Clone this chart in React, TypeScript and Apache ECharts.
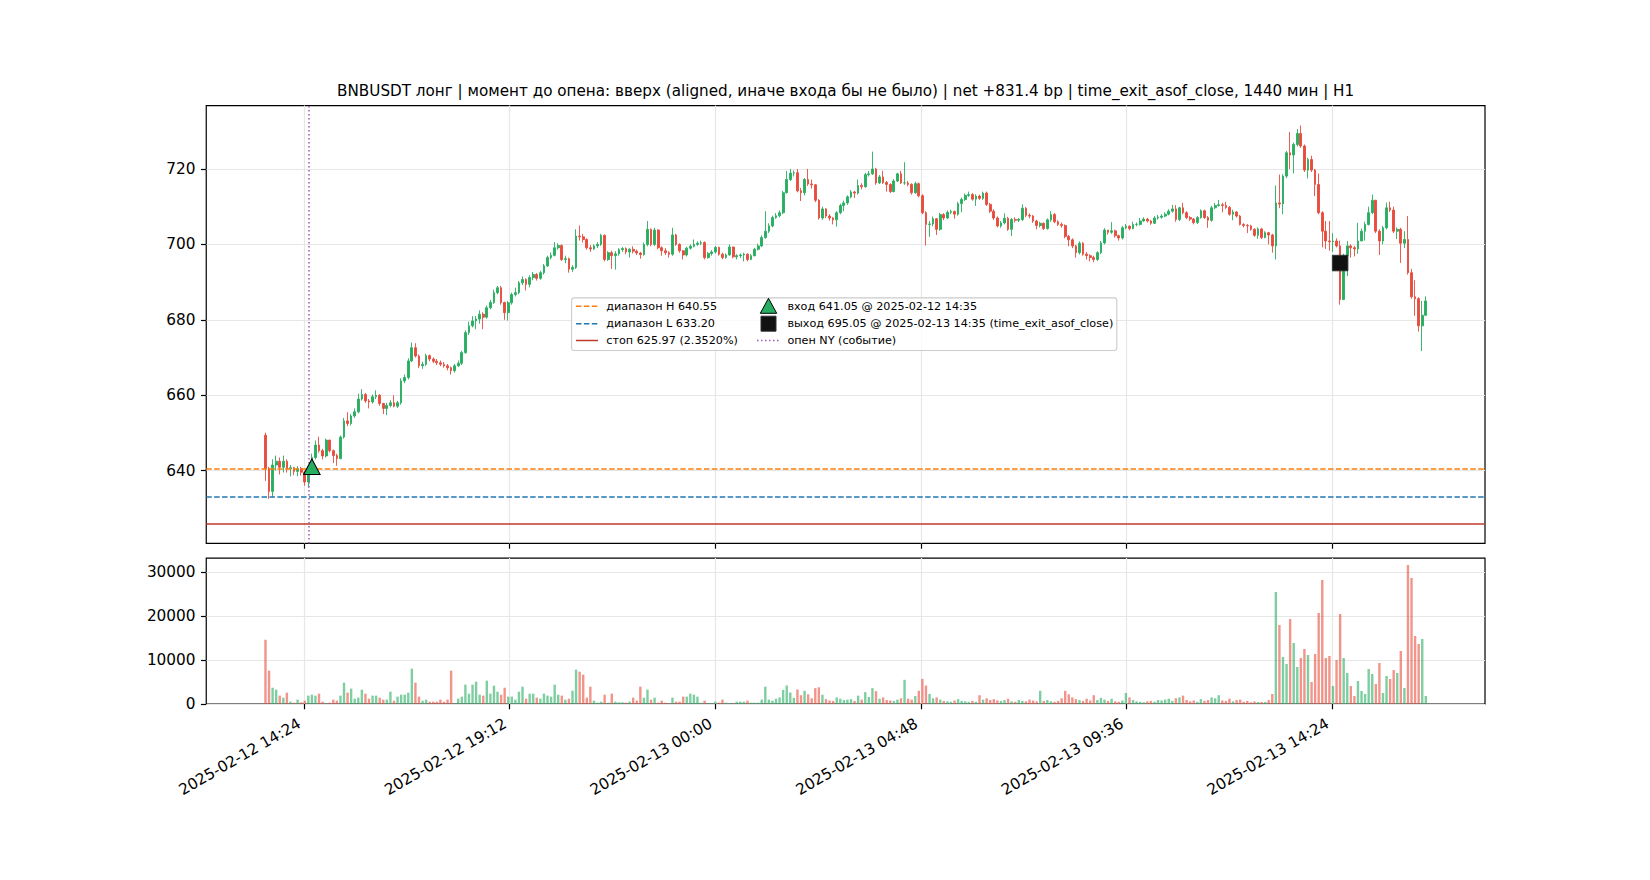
import { useEffect, useRef } from 'react';
import * as echarts from 'echarts';

const TITLE =
  'BNBUSDT лонг | момент до опена: вверх (aligned, иначе входа бы не было) | net +831.4 bp | time_exit_asof_close, 1440 мин | H1';

// 5-minute candles from 2025-02-12 13:30; x is hours since 2025-02-12 00:00
const START_HOUR = 13.5;
const STEP_HOUR = 5 / 60;
const FIRST_OPEN = 649.4;

// [close, high, low]; each candle opens at the previous close
const candleRows: [number, number, number][] = [
  // 0
  [640.6, 650.1, 637.3], [634.5, 641.0, 632.5], [641.5, 643.0, 633.0], [642.5, 644.0, 640.0], [640.9, 643.5, 639.0],
  [642.5, 644.0, 639.5], [640.5, 643.0, 639.5], [640.8, 641.5, 638.5], [639.8, 641.0, 638.8], [640.5, 641.2, 638.5],
  // 10
  [639.6, 641.0, 638.7], [637.0, 640.0, 636.0], [640.5, 641.5, 635.5], [643.5, 644.5, 640.0], [646.8, 648.0, 643.0],
  [645.3, 649.0, 644.8], [643.9, 645.8, 643.0], [648.1, 648.5, 643.5], [645.3, 648.2, 644.8], [644.0, 645.6, 642.0],
  // 20
  [643.2, 644.5, 641.3], [648.9, 649.3, 643.0], [653.2, 654.0, 648.5], [652.5, 655.5, 651.8], [654.5, 655.0, 652.0],
  [655.6, 656.5, 654.0], [659.0, 660.4, 655.2], [660.2, 661.6, 658.6], [658.5, 660.6, 658.0], [658.2, 659.0, 656.5],
  // 30
  [659.6, 660.2, 657.8], [660.0, 661.3, 659.0], [657.8, 660.3, 657.2], [656.5, 658.0, 655.0], [657.3, 658.0, 654.7],
  [658.0, 658.7, 656.8], [657.1, 660.0, 656.8], [658.0, 658.5, 656.6], [663.8, 664.5, 657.5], [664.7, 665.5, 663.2],
  // 40
  [669.1, 669.8, 664.2], [672.6, 674.0, 668.8], [670.4, 673.8, 670.0], [667.8, 670.8, 667.2], [668.2, 668.9, 667.0],
  [670.5, 671.0, 667.8], [669.6, 670.8, 669.0], [669.0, 670.0, 668.5], [668.6, 669.6, 668.0], [668.2, 669.2, 667.7],
  // 50
  [667.8, 668.8, 667.3], [667.3, 668.3, 666.6], [666.5, 667.6, 665.5], [667.8, 668.3, 666.0], [668.5, 669.2, 667.5],
  [671.3, 671.8, 668.0], [676.6, 677.2, 671.0], [678.4, 679.5, 676.0], [679.7, 681.0, 678.0], [680.2, 681.0, 677.5],
  // 60
  [681.5, 682.5, 679.0], [680.7, 682.0, 677.5], [683.2, 683.8, 680.3], [684.6, 685.3, 682.8], [687.2, 688.0, 684.2],
  [688.5, 689.0, 686.8], [684.6, 689.0, 684.0], [681.9, 684.8, 680.0], [684.5, 685.0, 679.8], [686.7, 687.2, 684.0],
  // 70
  [687.2, 688.5, 686.2], [689.8, 690.3, 686.8], [690.7, 691.5, 689.2], [689.4, 691.0, 687.8], [691.2, 691.8, 688.6],
  [692.0, 692.7, 690.5], [691.0, 692.4, 690.4], [692.5, 693.0, 690.6], [694.3, 694.8, 692.0], [696.5, 697.0, 694.0],
  // 80
  [697.1, 697.8, 696.0], [699.1, 700.6, 696.8], [699.7, 700.3, 698.6], [696.0, 700.0, 695.6], [696.2, 697.0, 695.0],
  [693.4, 696.5, 692.5], [693.9, 694.5, 692.7], [702.2, 704.0, 693.5], [702.0, 705.0, 701.0], [701.3, 702.8, 700.5],
  // 90
  [699.1, 701.6, 698.6], [698.8, 699.8, 698.0], [699.6, 700.0, 698.5], [700.0, 700.6, 699.0], [702.4, 702.8, 699.6],
  [696.0, 702.6, 695.5], [697.8, 698.2, 695.6], [697.0, 698.3, 693.5], [697.5, 698.2, 693.3], [698.6, 699.0, 697.0],
  // 100
  [698.9, 699.3, 698.0], [698.0, 699.2, 697.4], [698.7, 699.0, 696.5], [698.2, 699.5, 697.6], [697.7, 698.6, 697.2],
  [697.3, 698.0, 696.2], [700.0, 700.5, 697.0], [704.0, 706.2, 699.5], [700.0, 704.2, 699.5], [703.8, 704.4, 699.6],
  // 110
  [699.1, 704.0, 698.7], [698.3, 699.5, 697.0], [697.8, 699.0, 697.2], [697.4, 698.2, 696.5], [702.5, 704.4, 697.0],
  [700.0, 702.8, 699.6], [698.3, 700.3, 697.8], [697.2, 698.5, 696.0], [699.0, 699.4, 696.8], [699.5, 700.0, 698.6],
  // 120
  [700.0, 701.3, 699.2], [700.3, 700.8, 699.6], [700.5, 701.0, 699.8], [696.5, 700.8, 696.0], [697.6, 698.0, 696.2],
  [698.0, 698.5, 697.0], [699.2, 699.6, 697.6], [697.4, 699.4, 697.0], [696.5, 697.8, 696.0], [697.2, 697.6, 696.2],
  // 130
  [699.3, 700.0, 697.0], [696.7, 699.4, 696.3], [697.0, 697.4, 696.0], [697.2, 697.6, 696.4], [697.4, 697.8, 695.5],
  [696.0, 697.6, 695.5], [697.0, 697.4, 695.8], [698.7, 699.1, 696.8], [699.6, 700.2, 698.4], [701.8, 702.4, 699.3],
  // 140
  [703.5, 708.8, 701.5], [704.9, 705.6, 703.0], [707.1, 707.6, 704.5], [707.6, 708.3, 706.8], [708.4, 709.0, 707.2],
  [713.7, 714.2, 708.0], [717.2, 719.5, 713.5], [718.9, 720.0, 716.8], [719.0, 719.6, 718.0], [714.2, 720.0, 713.8],
  // 150
  [713.7, 715.0, 711.5], [717.2, 717.6, 713.0], [716.0, 720.0, 715.5], [715.8, 717.2, 714.8], [711.7, 716.0, 711.2],
  [707.0, 712.0, 706.6], [709.4, 710.0, 706.5], [707.5, 709.6, 707.0], [707.0, 708.0, 706.3], [706.5, 707.2, 705.3],
  // 160
  [708.4, 708.8, 704.7], [710.3, 710.8, 708.0], [711.0, 711.6, 708.8], [712.6, 713.0, 710.5], [713.9, 714.4, 712.2],
  [713.6, 714.2, 712.3], [715.6, 717.2, 713.2], [715.3, 716.2, 714.6], [718.5, 719.0, 715.0], [718.7, 719.5, 718.0],
  // 170
  [720.0, 724.6, 718.4], [716.3, 720.3, 715.8], [717.9, 718.4, 716.0], [716.4, 719.5, 716.0], [715.9, 716.8, 714.0],
  [714.0, 716.2, 713.6], [716.8, 717.3, 713.8], [718.7, 719.0, 716.5], [716.3, 719.5, 716.0], [716.3, 721.8, 715.8],
  // 180
  [715.9, 716.8, 715.4], [713.7, 716.2, 713.2], [716.1, 716.6, 713.4], [712.9, 716.4, 712.5], [708.4, 713.3, 708.0],
  [705.3, 708.8, 699.7], [705.4, 706.2, 702.0], [706.8, 707.4, 704.8], [704.0, 707.0, 702.5], [707.9, 708.4, 703.6],
  // 190
  [707.0, 708.3, 706.4], [708.5, 709.0, 706.7], [708.7, 709.2, 708.0], [708.0, 709.0, 706.8], [710.8, 711.3, 707.6],
  [711.9, 712.4, 708.5], [713.0, 713.5, 711.5], [713.2, 714.0, 712.6], [712.0, 713.6, 711.6], [712.8, 713.3, 710.2],
  // 200
  [712.2, 713.2, 711.8], [713.6, 714.0, 711.8], [710.6, 714.0, 710.2], [708.8, 711.0, 708.3], [707.0, 709.3, 706.5],
  [704.9, 707.4, 704.5], [705.7, 706.2, 704.4], [706.9, 708.2, 705.3], [704.0, 707.3, 703.6], [706.6, 707.0, 702.2],
  // 210
  [706.4, 707.2, 705.8], [706.6, 707.0, 705.9], [709.6, 710.6, 706.2], [707.7, 709.9, 707.2], [707.5, 708.2, 706.9],
  [706.2, 707.8, 705.7], [705.0, 706.5, 704.0], [705.6, 706.0, 704.5], [704.2, 705.8, 703.8], [706.5, 706.9, 703.9],
  // 220
  [707.9, 708.8, 706.0], [706.0, 708.3, 705.6], [705.3, 706.4, 704.9], [705.0, 705.8, 704.4], [702.1, 705.3, 701.6],
  [701.2, 702.5, 699.5], [699.6, 701.6, 699.0], [697.8, 699.9, 696.5], [700.3, 700.8, 697.3], [697.4, 700.6, 697.0],
  // 230
  [697.0, 698.0, 696.0], [696.5, 697.4, 695.5], [696.0, 697.0, 695.3], [697.8, 698.2, 695.6], [700.4, 700.9, 697.4],
  [703.8, 704.3, 700.0], [703.2, 703.8, 702.6], [703.6, 705.9, 702.8], [702.3, 703.9, 701.8], [701.7, 702.6, 701.0],
  // 240
  [704.4, 704.9, 701.3], [704.8, 705.4, 704.0], [704.2, 705.1, 703.7], [705.3, 706.0, 704.0], [705.3, 705.8, 704.8],
  [706.2, 707.0, 705.0], [706.7, 707.2, 706.0], [706.2, 707.0, 705.8], [705.6, 706.5, 705.2], [707.0, 707.5, 705.4],
  // 250
  [707.2, 707.8, 706.6], [707.5, 708.0, 706.8], [708.0, 708.5, 707.2], [708.8, 709.3, 707.7], [709.4, 710.5, 708.4],
  [706.6, 710.4, 706.0], [709.7, 710.0, 706.2], [708.4, 711.0, 708.0], [707.1, 708.8, 706.7], [706.7, 707.5, 706.2],
  // 260
  [705.8, 707.0, 705.3], [707.1, 707.5, 705.4], [708.9, 709.3, 706.8], [707.1, 709.2, 706.8], [706.4, 707.5, 704.4],
  [709.7, 710.2, 706.0], [710.3, 711.0, 709.4], [710.5, 711.8, 710.0], [710.3, 711.0, 708.5], [709.8, 711.3, 709.4],
  // 270
  [708.0, 710.2, 707.6], [708.6, 709.2, 706.4], [707.5, 708.8, 707.1], [705.3, 707.8, 705.0], [705.0, 705.6, 704.5],
  [704.9, 705.4, 703.0], [704.0, 705.2, 703.6], [702.4, 704.3, 702.0], [704.1, 704.5, 701.5], [701.8, 704.4, 701.4],
  // 280
  [703.1, 703.5, 701.6], [702.5, 703.3, 700.0], [699.6, 702.8, 697.8], [711.0, 715.6, 696.0], [710.7, 718.5, 709.6],
  [718.1, 718.6, 708.0], [724.3, 724.8, 717.6], [723.7, 729.8, 720.0], [726.5, 727.0, 718.8], [729.4, 730.6, 726.0],
  // 290
  [726.1, 731.5, 725.6], [719.7, 726.5, 719.2], [722.5, 723.0, 717.5], [719.7, 723.5, 719.2], [715.9, 720.0, 712.8],
  [708.4, 718.8, 708.0], [703.5, 708.8, 699.2], [700.9, 706.2, 698.8], [700.7, 706.2, 698.3], [700.9, 703.0, 698.0],
  // 300
  [699.6, 701.6, 699.2], [685.4, 701.0, 684.0], [697.0, 697.5, 685.2], [699.6, 700.9, 691.6], [699.1, 700.0, 696.5],
  [698.8, 699.6, 696.8], [700.9, 705.7, 697.5], [703.5, 704.2, 701.0], [705.3, 706.0, 701.0], [708.4, 710.0, 705.0],
  // 310
  [711.7, 713.2, 708.0], [703.5, 711.8, 703.0], [700.9, 704.0, 697.2], [704.4, 704.9, 700.0], [709.7, 711.1, 704.0],
  [709.1, 711.3, 708.6], [703.5, 710.0, 703.0], [704.0, 704.5, 701.4], [700.3, 704.4, 695.1], [701.3, 703.5, 699.0],
  // 320
  [692.5, 707.5, 692.0], [686.1, 693.5, 685.6], [685.6, 690.5, 681.1], [678.4, 686.0, 676.9], [681.2, 685.0, 671.7],
  [685.0, 686.2, 681.0],
];

const volumes: number[] = [
  // 0
  14600, 7580, 3700, 3260, 1900, 1440, 2580, 530, 300, 990,
  380, 760, 1900, 2120, 1900, 2350, 530, 150, 300, 990,
  760, 1900, 4850, 2580, 3490, 1210, 1440, 3260, 2350, 1210,
  1900, 1900, 1440, 990, 990, 2800, 760, 1670, 2120, 2120,
  2580, 8030, 4850, 1670, 760, 990, 530, 530, 530, 990,
  // 50
  530, 990, 7580, 150, 1210, 1670, 4400, 2350, 4400, 5080,
  2120, 1900, 5300, 2350, 4170, 2800, 2120, 3700, 1670, 1670,
  990, 2800, 3940, 1210, 2350, 2350, 1440, 1210, 2350, 1900,
  1670, 4400, 2120, 1900, 990, 1210, 3030, 7810, 7350, 6670,
  1440, 3940, 760, 300, 530, 2120, 300, 2350, 530, 380,
  // 100
  380, 300, 530, 1440, 760, 3940, 1440, 3260, 990, 1440,
  300, 760, 300, 150, 1440, 530, 530, 1670, 1670, 2350,
  2120, 1670, 300, 760, 150, 150, 530, 300, 990, 300,
  150, 150, 530, 530, 530, 760, 300, 300, 300, 990,
  3940, 990, 760, 1200, 1500, 3200, 4200, 2600, 1400, 3300,
  // 150
  2000, 3000, 2200, 1300, 3600, 3800, 2100, 1100, 800, 700,
  1500, 1200, 900, 1000, 1100, 700, 1900, 1000, 2700, 1600,
  3600, 2900, 1200, 1500, 900, 800, 700, 1000, 1300, 5500,
  1200, 1000, 1800, 3000, 5700, 4200, 2300, 1300, 1500, 1000,
  700, 600, 500, 800, 1100, 700, 600, 500, 700, 500,
  // 200
  2000, 1000, 1300, 900, 1100, 800, 700, 900, 1200, 600,
  500, 900, 700, 600, 1000, 800, 600, 3000, 700, 900,
  600, 500, 700, 1300, 3000, 2200, 1500, 1100, 900, 700,
  1200, 800, 2000, 900, 1400, 1000, 700, 1200, 600, 500,
  800, 2500, 1500, 900, 600, 500, 400, 600, 700, 500,
  // 250
  900, 800, 1000, 1200, 700, 1300, 1500, 1900, 900, 600,
  800, 500, 1100, 700, 900, 1500, 1300, 2000, 800, 700,
  1200, 600, 900, 1000, 500, 700, 400, 600, 450, 450,
  450, 900, 2270, 25450, 17950, 10680, 9090, 19320, 13860, 8410,
  10450, 12500, 11140, 5000, 11360, 20680, 28180, 10450, 10910, 4090,
  // 300
  10000, 20450, 10450, 7050, 4090, 1820, 5230, 2950, 2270, 7950,
  6820, 4550, 9320, 2500, 6360, 5680, 7730, 7050, 12050, 3640,
  31590, 28640, 15450, 13640, 14770, 1820,
];

const xTickHours = [14.4, 19.2, 24, 28.8, 33.6, 38.4];
const xTickLabels = [
  '2025-02-12 14:24',
  '2025-02-12 19:12',
  '2025-02-13 00:00',
  '2025-02-13 04:48',
  '2025-02-13 09:36',
  '2025-02-13 14:24',
];
const priceTicks = [640, 660, 680, 700, 720];
const volumeTicks = [0, 10000, 20000, 30000];

const RANGE_H = 640.55;
const RANGE_L = 633.2;
const STOP = 625.97;
const NY_OPEN_HOUR = 14.5;
const ENTRY = { hour: 14 + 35 / 60, price: 641.05 };
const EXIT = { hour: 38 + 35 / 60, price: 695.05 };

const legendLeft = [
  { label: 'диапазон H 640.55', color: '#ff7f0e', dash: [5.5, 2.4] },
  { label: 'диапазон L 633.20', color: '#1f77b4', dash: [5.5, 2.4] },
  { label: 'стоп 625.97 (2.3520%)', color: '#c0392b', dash: null },
];
const legendRight = [
  'вход 641.05 @ 2025-02-12 14:35',
  'выход 695.05 @ 2025-02-13 14:35 (time_exit_asof_close)',
  'опен NY (событие)',
];

const GREEN = '#27ae60';
const RED = '#e74c3c';
const PURPLE = '#9b59b6';
const FONT = 'DejaVu Sans';
const GRID_COLOR = '#e7e7e7';
const TICK_FONT = 15.3;

// figure geometry (matplotlib-like layout)
const PLOT_LEFT = 206.25;
const PLOT_WIDTH = 1278.75;
const MAIN_TOP = 105.6;
const MAIN_HEIGHT = 437.85;
const VOL_TOP = 558.05;
const VOL_HEIGHT = 145.95;

export default function App() {
  const ref = useRef<HTMLDivElement>(null);

  useEffect(() => {
    if (!ref.current) return;
    document.body.style.margin = '0';
    const chart = echarts.init(ref.current, null, { renderer: 'svg' });

    let prevClose = FIRST_OPEN;
    const ohlc = candleRows.map(([c, h, l], i) => {
      const o = prevClose;
      prevClose = c;
      const x = START_HOUR + i * STEP_HOUR;
      return [x, o, c, Math.min(l, o, c), Math.max(h, o, c)];
    });
    const volData = volumes.map((v, i) => {
      const up = ohlc[i] ? ohlc[i][2] >= ohlc[i][1] : true;
      return {
        value: [START_HOUR + i * STEP_HOUR, v],
        itemStyle: { color: up ? GREEN : RED, opacity: 0.6 },
      };
    });

    const xLabel = (v: number) => {
      const k = xTickHours.findIndex((t) => Math.abs(t - v) < 1e-6);
      return k >= 0 ? xTickLabels[k] : '';
    };

    const xAxisBase = (gridIndex: number) => ({
      type: 'value' as const,
      gridIndex,
      min: 12.118,
      max: 41.965,
      axisLine: { show: false },
      axisTick: {
        show: true,
        length: 5.3,
        customValues: xTickHours,
        lineStyle: { color: '#000', width: 1.2 },
      },
      axisLabel:
        gridIndex === 1
          ? {
              show: true,
              customValues: xTickHours,
              formatter: xLabel,
              rotate: 30,
              margin: 15.8,
              padding: [0, 5.2, 0, 0],
              color: '#000',
              fontFamily: FONT,
              fontSize: TICK_FONT,
            }
          : { show: false },
      splitLine: { show: true, lineStyle: { color: GRID_COLOR, width: 1.2 } },
    });

    const yAxisBase = (gridIndex: number, min: number, max: number, ticks: number[]) => ({
      type: 'value' as const,
      gridIndex,
      min,
      max,
      axisLine: { show: false },
      axisTick: {
        show: true,
        length: 5.3,
        customValues: ticks,
        lineStyle: { color: '#000', width: 1.2 },
      },
      axisLabel: {
        customValues: ticks,
        formatter: (v: number) => String(v),
        margin: 10.7,
        color: '#000',
        fontFamily: FONT,
        fontSize: TICK_FONT,
      },
      splitLine: { show: true, lineStyle: { color: GRID_COLOR, width: 1.2 } },
    });

    const rowY = [306.3, 323.7, 340.5];
    const legendGraphics: any[] = [
      {
        type: 'rect',
        shape: { x: 571.6, y: 297.9, width: 545.2, height: 52.6, r: 2.5 },
        style: { fill: 'rgba(255,255,255,0.8)', stroke: '#cccccc', lineWidth: 1.1 },
        z: 100,
      },
    ];
    legendLeft.forEach((item, k) => {
      legendGraphics.push({
        type: 'line',
        shape: { x1: 576, y1: rowY[k], x2: 598, y2: rowY[k] },
        style: { stroke: item.color, lineWidth: 1.5, lineDash: item.dash || undefined },
        z: 101,
      });
      legendGraphics.push({
        type: 'text',
        x: 606.3,
        y: rowY[k],
        style: {
          text: item.label,
          fontFamily: FONT,
          fontSize: 11.2,
          fill: '#000',
          verticalAlign: 'middle',
          align: 'left',
        },
        z: 101,
      });
    });
    const mx = 768.5;
    legendGraphics.push({
      type: 'polygon',
      shape: {
        points: [
          [mx, rowY[0] - 8],
          [mx - 8.2, rowY[0] + 7],
          [mx + 8.2, rowY[0] + 7],
        ],
      },
      style: { fill: GREEN, stroke: '#000', lineWidth: 1 },
      z: 101,
    });
    legendGraphics.push({
      type: 'rect',
      shape: { x: mx - 7.5, y: rowY[1] - 7.5, width: 15, height: 15 },
      style: { fill: '#111', stroke: '#333', lineWidth: 1 },
      z: 101,
    });
    legendGraphics.push({
      type: 'line',
      shape: { x1: 757, y1: rowY[2], x2: 780, y2: rowY[2] },
      style: { stroke: PURPLE, lineWidth: 1.5, lineDash: [1.5, 2.5] },
      z: 101,
    });
    legendRight.forEach((label, k) => {
      legendGraphics.push({
        type: 'text',
        x: 787.4,
        y: rowY[k],
        style: {
          text: label,
          fontFamily: FONT,
          fontSize: 11.2,
          fill: '#000',
          verticalAlign: 'middle',
          align: 'left',
        },
        z: 101,
      });
    });

    chart.setOption({
      animation: false,
      backgroundColor: '#fff',
      textStyle: { fontFamily: FONT },
      grid: [
        {
          left: PLOT_LEFT,
          top: MAIN_TOP,
          width: PLOT_WIDTH,
          height: MAIN_HEIGHT,
          show: true,
          borderColor: '#000',
          borderWidth: 1.2,
        },
        {
          left: PLOT_LEFT,
          top: VOL_TOP,
          width: PLOT_WIDTH,
          height: VOL_HEIGHT,
          show: true,
          borderColor: '#000',
          borderWidth: 1.2,
        },
      ],
      xAxis: [xAxisBase(0), xAxisBase(1)],
      yAxis: [yAxisBase(0, 620.7, 736.8, priceTicks), yAxisBase(1, 0, 33170, volumeTicks)],
      graphic: [
        {
          type: 'text',
          x: PLOT_LEFT + PLOT_WIDTH / 2,
          y: 91.3,
          style: {
            text: TITLE,
            fontFamily: FONT,
            fontSize: 15.2,
            fill: '#000',
            align: 'center',
            verticalAlign: 'middle',
          },
        },
        ...legendGraphics,
      ],
      series: [
        {
          type: 'candlestick',
          xAxisIndex: 0,
          yAxisIndex: 0,
          data: ohlc,
          encode: { x: 0, y: [1, 2, 3, 4] },
          barWidth: 2.2,
          itemStyle: {
            color: GREEN,
            color0: RED,
            borderColor: GREEN,
            borderColor0: RED,
            borderWidth: 0.9,
          },
          markLine: {
            silent: true,
            symbol: ['none', 'none'],
            label: { show: false },
            data: [
              { yAxis: RANGE_H, lineStyle: { color: '#ff7f0e', type: [5.5, 2.4], width: 1.5 } },
              { yAxis: RANGE_L, lineStyle: { color: '#1f77b4', type: [5.5, 2.4], width: 1.5 } },
              { yAxis: STOP, lineStyle: { color: '#c0392b', type: 'solid', width: 1.5 } },
              { xAxis: NY_OPEN_HOUR, lineStyle: { color: PURPLE, type: [1.5, 2.5], width: 1.5 } },
            ],
          },
          z: 2,
        },
        {
          type: 'scatter',
          xAxisIndex: 0,
          yAxisIndex: 0,
          data: [[ENTRY.hour, ENTRY.price]],
          symbol: 'triangle',
          symbolSize: [16.5, 15.5],
          itemStyle: { color: GREEN, borderColor: '#000', borderWidth: 1, opacity: 1 },
          z: 5,
        },
        {
          type: 'scatter',
          xAxisIndex: 0,
          yAxisIndex: 0,
          data: [[EXIT.hour, EXIT.price]],
          symbol: 'rect',
          symbolSize: 15.5,
          itemStyle: { color: '#111', borderColor: '#333', borderWidth: 1, opacity: 1 },
          z: 5,
        },
        {
          type: 'bar',
          xAxisIndex: 1,
          yAxisIndex: 1,
          data: volData,
          barWidth: 2.4,
        },
      ],
    });

    return () => {
      chart.dispose();
    };
  }, []);

  return (
    <div
      ref={ref}
      style={{ position: 'absolute', left: 0, top: 0, width: 1650, height: 880 }}
    />
  );
}
